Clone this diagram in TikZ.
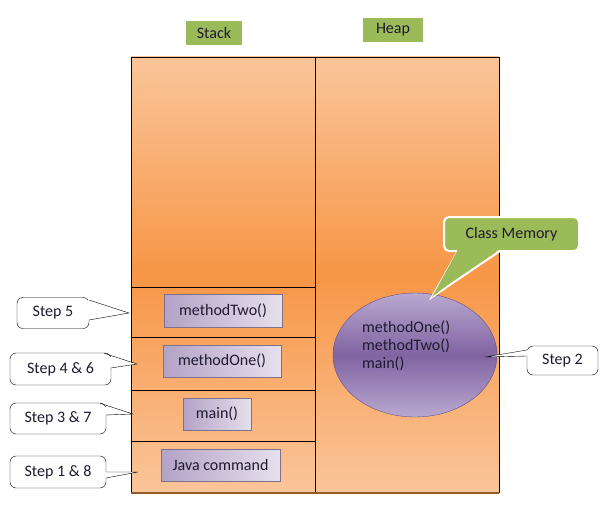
\documentclass[tikz,border=0pt]{standalone}
\usepackage{fontspec}
\setmainfont{Carlito}
\usetikzlibrary{shapes.geometric}
\definecolor{peach}{HTML}{FAC59A}
\definecolor{orng}{HTML}{F79646}
\definecolor{grn}{HTML}{9BBB59}
\definecolor{lav1}{HTML}{E6E0EC}
\definecolor{lav2}{HTML}{B3A2C7}
\definecolor{purp}{HTML}{8064A2}
\definecolor{purpl}{HTML}{B9A8D0}
\definecolor{txt}{HTML}{1F1A30}
\tikzset{
  every node/.style={font=\fontsize{16}{18}\selectfont, text=txt},
  labelbox/.style={draw=white, line width=1.5pt, fill=grn, minimum height=26pt, inner sep=0pt},
  methbox/.style={draw=lav2!70!black, line width=0.4pt, left color=lav2, right color=lav1, minimum height=32pt, inner sep=0pt},
  callbox/.style={draw=black, fill=white, rounded corners=6pt, inner sep=0pt, minimum height=31pt},
  sep/.style={draw=black, line width=0.6pt}
}
\begin{document}
\begin{tikzpicture}[x=1pt,y=-1pt]
\useasboundingbox (0,0) rectangle (616,508);
% memory area
\shade[top color=peach, bottom color=orng] (131,57) rectangle (499,275);
\shade[top color=orng, bottom color=peach] (131,274) rectangle (499,492);
\draw[sep] (131,57) rectangle (499,492);
\draw[sep] (315,57) -- (315,492);
\draw[sep] (131,287) -- (315,287);
\draw[sep] (131,337) -- (315,337);
\draw[sep] (131,390) -- (315,390);
\draw[sep] (131,441) -- (315,441);
\draw[orng!60!black, line width=1.5pt] (131,493) -- (499,493);
% labels
\node[labelbox, minimum width=58pt] (stack) at (214,33) {Stack};
\node[labelbox, minimum width=62pt] (heap) at (393,30) {Heap};
% stack frames
\node[methbox, minimum width=118pt, minimum height=33pt] (m2) at (223,310.5) {methodTwo()};
\node[methbox, minimum width=118pt] (m1) at (222,361) {methodOne()};
\node[methbox, minimum width=68pt] (mn) at (217,414) {main()};
\node[methbox, minimum width=119pt] (jc) at (220.5,465) {Java command};
% ellipse
\shade[top color=purpl, bottom color=purpl, middle color=purp] (415,355) ellipse (82 and 62);
\draw[purp!80!black, line width=0.4pt] (415,355) ellipse (82 and 62);
\coordinate (cls) at (415,355);
\node[anchor=west, align=left, inner sep=0pt] (clstext) at (362,346) {methodOne()\\methodTwo()\\main()};
% class memory callout
\coordinate (cmtip) at (432,297);
\node[draw=white, line width=2pt, fill=grn, rounded corners=5pt, minimum width=135pt, minimum height=34pt, inner sep=0pt] (cm) at (511.5,234) {Class Memory};
\fill[grn] (458,249) -- (cmtip) -- (500,249) -- cycle;
\draw[white, line width=2pt] (458,251) -- (cmtip) -- (500,251);
\fill[grn] (460,246) -- (cmtip) -- (498,246) -- cycle;
% step callouts
\node[callbox, minimum width=72pt] (s5) at (53,313) {Step 5};
\coordinate (s5tip) at (129,313);
\fill[white] (88,300) -- (s5tip) -- (88,320) -- cycle;
\draw (89,300) -- (s5tip) -- (89,320);
\node[callbox, minimum width=101pt, minimum height=32pt] (s46) at (60.5,369) {Step 4 \& 6};
\coordinate (s46tip) at (137,364);
\fill[white] (110,357) -- (s46tip) -- (110,368) -- cycle;
\draw (104,353.3) -- (s46tip) -- (111,368);
\node[callbox, minimum width=96pt] (s37) at (58,418.5) {Step 3 \& 7};
\coordinate (s37tip) at (133,414);
\fill[white] (105,407) -- (s37tip) -- (105,415) -- cycle;
\draw (100,403.3) -- (s37tip) -- (106,415);
\node[callbox, minimum width=96pt, minimum height=32pt] (s18) at (58,472) {Step 1 \& 8};
\coordinate (s18tip) at (138,472);
\fill[white] (105,472) -- (s18tip) -- (105,478) -- cycle;
\draw (106,472) -- (s18tip) -- (106,478);
\node[callbox, minimum width=71pt, minimum height=29pt] (s2) at (562.5,360.5) {Step 2};
\coordinate (s2tip) at (485,357);
\fill[white] (528,350) -- (s2tip) -- (528,356) -- cycle;
\draw (527,350) -- (s2tip) -- (527,356);
\end{tikzpicture}
\end{document}
